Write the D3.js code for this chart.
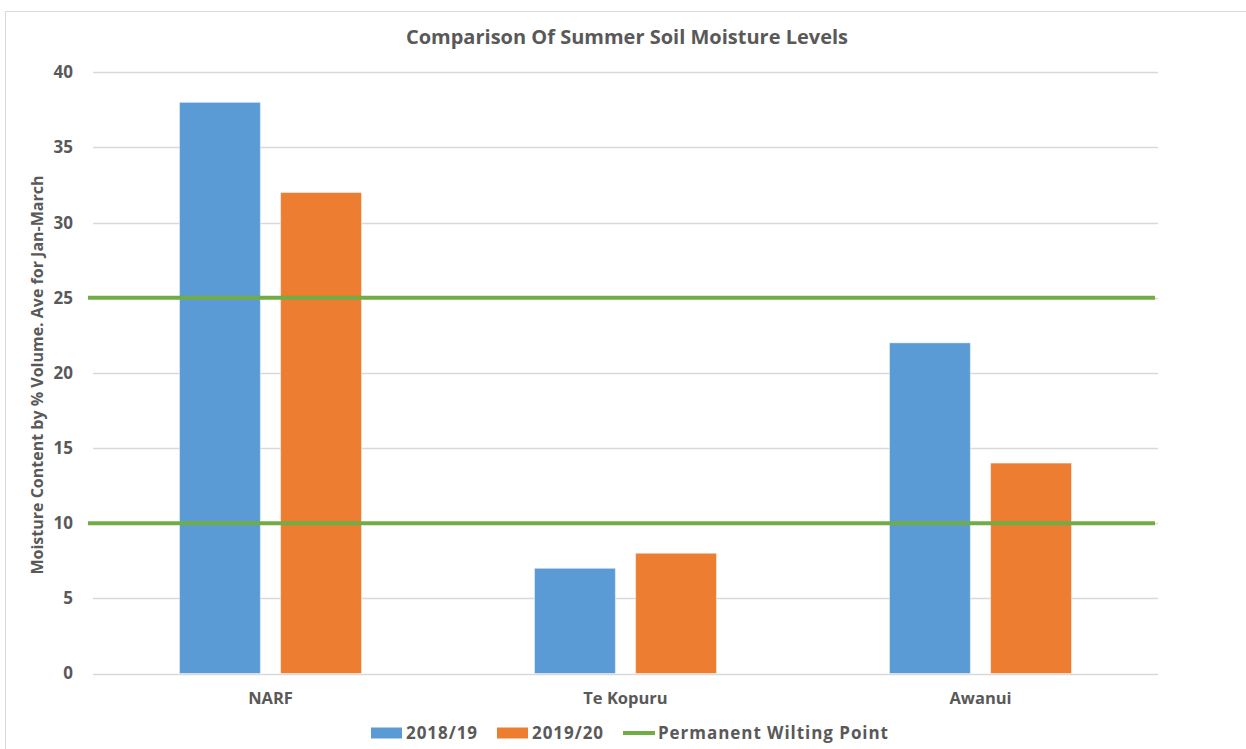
<!DOCTYPE html>
<html>
<head>
<meta charset="utf-8">
<script src="https://cdn.jsdelivr.net/npm/d3@7"></script>
<style>
  html, body { margin: 0; padding: 0; background: #fff; }
  svg { display: block; }
  text { font-family: "Open Sans", Lato, sans-serif; font-weight: 700; fill: #595959; }
</style>
</head>
<body>
<svg id="chart" width="1246" height="749"></svg>
<script>
// Sites and seasons
const sites = ["NARF", "Te Kopuru", "Awanui"];
const seasons = ["2018/19", "2019/20"];
// Average moisture content (% volume, Jan–March) per site, one array per season
const moisture2018 = [38, 7, 22];
const moisture2019 = [32, 8, 14];
// Permanent wilting point reference levels
const wiltingLevels = [25, 10];
const yTicks = [0, 5, 10, 15, 20, 25, 30, 35, 40];

const colors = { "2018/19": "#5B9BD5", "2019/20": "#ED7D31", wilting: "#70AD47" };
const FONT = '"Open Sans", Lato, sans-serif';

const svg = d3.select("#chart");
const W = 1246, H = 749;
const plot = { left: 93, right: 1158, top: 72.3, bottom: 673.5 };

// outer frame
svg.append("rect")
  .attr("x", 5.5).attr("y", 11.5)
  .attr("width", W).attr("height", H)
  .attr("fill", "#fff").attr("stroke", "#D9D9D9").attr("stroke-width", 1);

const x0 = d3.scaleBand().domain(sites).range([plot.left, plot.right]).paddingInner(0).paddingOuter(0);
// two bars of ~80px with a ~21px gap, centred in each 355px band
const x1 = d3.scaleBand().domain(seasons).range([86.5, x0.bandwidth() - 86.5]).paddingInner(0.2).paddingOuter(0);
const y = d3.scaleLinear().domain([0, 40]).range([plot.bottom, plot.top]);

// gridlines
svg.append("g").selectAll("line").data(yTicks).join("line")
  .attr("x1", plot.left).attr("x2", plot.right)
  .attr("y1", d => Math.round(y(d)) + 0.5).attr("y2", d => Math.round(y(d)) + 0.5)
  .attr("stroke", "#D9D9D9").attr("stroke-width", 1.3);

// y axis labels
const yAxis = d3.axisLeft(y).tickValues(yTicks).tickSize(0).tickPadding(20);
const gy = svg.append("g").attr("transform", `translate(${plot.left},0)`).call(yAxis);
gy.select(".domain").remove();
gy.selectAll("text").style("font-size", "17px").style("font-family", FONT).attr("fill", "#595959");

// bars
const series = [
  { season: "2018/19", values: moisture2018 },
  { season: "2019/20", values: moisture2019 }
];
const bars = [];
series.forEach(s => s.values.forEach((v, i) => bars.push({ site: sites[i], season: s.season, value: v })));

svg.append("g").selectAll("rect").data(bars).join("rect")
  .attr("x", d => x0(d.site) + x1(d.season))
  .attr("y", d => y(d.value))
  .attr("width", x1.bandwidth())
  .attr("height", d => y(0) - y(d.value))
  .attr("fill", d => colors[d.season])
  .attr("stroke", "#fff").attr("stroke-opacity", 0.45).attr("stroke-width", 1);

// wilting point lines
svg.append("g").selectAll("line").data(wiltingLevels).join("line")
  .attr("x1", plot.left - 5).attr("x2", plot.right - 3)
  .attr("y1", d => y(d)).attr("y2", d => y(d))
  .attr("stroke", colors.wilting).attr("stroke-width", 4);

// x axis labels
const xAxis = d3.axisBottom(x0).tickSize(0).tickPadding(19);
const gx = svg.append("g").attr("transform", `translate(0,${plot.bottom})`).call(xAxis);
gx.select(".domain").remove();
gx.selectAll("text").style("font-size", "16.5px").style("font-family", FONT).attr("fill", "#595959");

// title
svg.append("text")
  .attr("x", 627).attr("y", 44)
  .attr("text-anchor", "middle")
  .style("font-size", "20px")
  .text("Comparison Of Summer Soil Moisture Levels");

// y axis title
svg.append("text")
  .attr("transform", "translate(43,375) rotate(-90)")
  .attr("text-anchor", "middle")
  .style("font-size", "16px")
  .text("Moisture Content by % Volume. Ave for Jan-March");

// legend
const legend = svg.append("g").attr("transform", "translate(371,733)");
const items = [
  { label: "2018/19", type: "rect", color: colors["2018/19"], x: 0 },
  { label: "2019/20", type: "rect", color: colors["2019/20"], x: 126 },
  { label: "Permanent Wilting Point", type: "line", color: colors.wilting, x: 252 }
];
items.forEach(it => {
  const g = legend.append("g").attr("transform", `translate(${it.x},0)`);
  if (it.type === "rect") {
    g.append("rect").attr("x", 0).attr("y", -5.5).attr("width", 31).attr("height", 11).attr("fill", it.color);
  } else {
    g.append("line").attr("x1", 0).attr("x2", 32).attr("y1", 0).attr("y2", 0)
      .attr("stroke", it.color).attr("stroke-width", 4);
  }
  g.append("text").attr("x", 35).attr("y", 0).attr("dy", "0.36em")
    .style("font-size", "17px")
    .style("letter-spacing", "0.95px")
    .text(it.label);
});
</script>
</body>
</html>
